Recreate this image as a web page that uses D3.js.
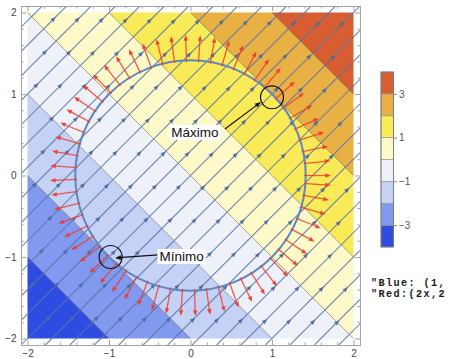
<!DOCTYPE html>
<html>
<head>
<meta charset="utf-8">
<script src="https://cdn.jsdelivr.net/npm/d3@7"></script>
<style>
  html, body { margin: 0; padding: 0; background: #fff; }
  svg { display: block; }
</style>
</head>
<body>
<svg id="chart" width="450" height="359"></svg>
<script>
// f(x, y) = x + y : contour levels and band fills (lowest band first)
const contourLevels = [-3, -2, -1, 0, 1, 2, 3];
const bandColors = ["#2E4BE2", "#8199EE", "#C6D1F6", "#EEF1F8", "#FDF9C9", "#F9EA57", "#E9B143", "#D85E31"];
const legendLabels = [3, 1, -1, -3];
const axisMajorTicks = [-2, -1, 0, 1, 2];
const axisMinorTicks = [-1.8, -1.6, -1.4, -1.2, -0.8, -0.6, -0.4, -0.2,
                        0.2, 0.4, 0.6, 0.8, 1.2, 1.4, 1.6, 1.8];

// stream lines of the field (1, 1): x - y = c
const streamOffsets = [-3.9, -3.6, -3.3, -3.0, -2.7, -2.4, -2.1, -1.8, -1.5, -1.2, -0.9, -0.6, -0.3,
                       0, 0.3, 0.6, 0.9, 1.2, 1.5, 1.8, 2.1, 2.4, 2.7, 3.0, 3.3, 3.6, 3.9];

// constraint circle x^2 + y^2 = 2 and sample angles (degrees) of the gradient (2x, 2y)
const constraintRadius = Math.SQRT2;
const gradientAngles = [0, 6, 12, 18, 24, 30, 36, 42, 50, 56, 62, 68, 74, 80, 86, 92, 98, 104, 110, 116,
                        122, 128, 134, 140, 146, 152, 158, 164, 170, 176, 182, 188, 194, 200, 206, 212,
                        218, 224, 230, 236, 242, 248, 254, 260, 266, 272, 278, 284, 290, 296, 302, 308,
                        314, 320, 326, 332, 338, 344, 350, 356];

// marked extrema
const extremaNames = ["Máximo", "Mínimo"];
const extremaPoints = [[1.0, 0.96], [-0.98, -1.0]];

// field descriptions shown at the right edge
const fieldNotes = ["\"Blue: (1,", "\"Red:(2x,2"];

// ---------------------------------------------------------------
const svg = d3.select("#chart");
const frame = { left: 21, right: 360, top: 6, bottom: 345 };
const x = d3.scaleLinear().domain([-2.08, 2.08]).range([frame.left, frame.right]);
const y = d3.scaleLinear().domain([-2.08, 2.08]).range([frame.bottom, frame.top]);
const pathOf = d3.line().x(d => x(d[0])).y(d => y(d[1]));

svg.append("defs").append("clipPath").attr("id", "frameClip")
  .append("rect")
  .attr("x", frame.left).attr("y", frame.top)
  .attr("width", frame.right - frame.left).attr("height", frame.bottom - frame.top);

const plot = svg.append("g").attr("clip-path", "url(#frameClip)");

// keep the part of a polygon where a*x + b*y <= c
function clipHalfPlane(poly, a, b, c) {
  const out = [];
  for (let i = 0; i < poly.length; i++) {
    const P = poly[i], Q = poly[(i + 1) % poly.length];
    const fp = a * P[0] + b * P[1] - c, fq = a * Q[0] + b * Q[1] - c;
    if (fp <= 0) out.push(P);
    if ((fp < 0 && fq > 0) || (fp > 0 && fq < 0)) {
      const t = fp / (fp - fq);
      out.push([P[0] + t * (Q[0] - P[0]), P[1] + t * (Q[1] - P[1])]);
    }
  }
  return out;
}

// filled contour bands
const square = [[-2, -2], [2, -2], [2, 2], [-2, 2]];
const bounds = [-Infinity, ...contourLevels, Infinity];
bandColors.forEach((col, i) => {
  let poly = square;
  if (isFinite(bounds[i + 1])) poly = clipHalfPlane(poly, 1, 1, bounds[i + 1]);
  if (isFinite(bounds[i])) poly = clipHalfPlane(poly, -1, -1, -bounds[i]);
  if (poly.length > 2) plot.append("path").attr("d", pathOf(poly) + "Z").attr("fill", col);
});

// contour lines
plot.append("g").selectAll("path").data(contourLevels).join("path")
  .attr("d", k => {
    const x0 = Math.max(-2, k - 2), x1 = Math.min(2, k + 2);
    return pathOf([[x0, k - x0], [x1, k - x1]]);
  })
  .attr("fill", "none").attr("stroke", "rgba(40,40,20,0.4)").attr("stroke-width", 1);

// stream lines with arrowheads
const streamG = plot.append("g");
streamG.selectAll("path").data(streamOffsets).join("path")
  .attr("d", c => {
    const x0 = Math.max(-2.08, c - 2.08), x1 = Math.min(2.08, c + 2.08);
    return pathOf([[x0, x0 - c], [x1, x1 - c]]);
  })
  .attr("fill", "none").attr("stroke", "#5775A6").attr("stroke-opacity", 0.85).attr("stroke-width", 1.1);

function headPath(tx, ty, ux, uy, len, half) {
  const bx = tx - ux * len, by = ty - uy * len;
  return `M${tx},${ty}L${bx - uy * half},${by + ux * half}L${bx + uy * half},${by - ux * half}Z`;
}
const heads = [];
streamOffsets.forEach((c, i) => {
  const phase = ((i * 0.29) % 0.8);
  for (let s = -4 + phase; s <= 4; s += 0.8) {
    const px = (s + c) / 2, py = (s - c) / 2;
    if (px > -1.95 && px < 1.95 && py > -1.95 && py < 1.95) heads.push([px, py]);
  }
});
streamG.append("g").selectAll("path").data(heads).join("path")
  .attr("d", d => headPath(x(d[0]), y(d[1]), Math.SQRT1_2, -Math.SQRT1_2, 5.2, 2.2))
  .attr("fill", "#4B6A9C").attr("fill-opacity", 0.92);

// constraint circle
plot.append("circle")
  .attr("cx", x(0)).attr("cy", y(0))
  .attr("r", x(constraintRadius) - x(0))
  .attr("fill", "none").attr("stroke", "#5E86C0").attr("stroke-width", 2);

// gradient (2x, 2y) arrows along the circle
const gradG = plot.append("g");
gradientAngles.forEach(a => {
  const t = a * Math.PI / 180;
  const ux = Math.cos(t), uy = Math.sin(t);
  const r0 = constraintRadius - 0.02, r1 = constraintRadius + 0.31;
  const p0 = [x(r0 * ux), y(r0 * uy)], p1 = [x(r1 * ux), y(r1 * uy)];
  gradG.append("line")
    .attr("x1", p0[0]).attr("y1", p0[1]).attr("x2", p1[0] - ux * 3).attr("y2", p1[1] + uy * 3)
    .attr("stroke", "#EE3A2C").attr("stroke-opacity", 0.82).attr("stroke-width", 1.3);
  gradG.append("path")
    .attr("d", headPath(p1[0], p1[1], ux, -uy, 5.5, 2.3))
    .attr("fill", "#EE3A2C").attr("fill-opacity", 0.88);
});

// marked extrema with callouts
const calloutLayout = [
  { text: [0.055, 0.472], from: [0.423, 0.571], to: [0.865, 0.902] },
  { text: [-0.110, -1.049], from: [-0.399, -0.975], to: [-0.926, -1.012] }
];
const noteG = svg.append("g");
extremaPoints.forEach((p, i) => {
  noteG.append("circle")
    .attr("cx", x(p[0])).attr("cy", y(p[1]))
    .attr("r", x(0.141) - x(0))
    .attr("fill", "none").attr("stroke", "#111").attr("stroke-width", 1.2);
  const L = calloutLayout[i];
  const f = [x(L.from[0]), y(L.from[1])], t = [x(L.to[0]), y(L.to[1])];
  const dx = t[0] - f[0], dy = t[1] - f[1], len = Math.hypot(dx, dy);
  const ux = dx / len, uy = dy / len;
  noteG.append("line")
    .attr("x1", f[0]).attr("y1", f[1]).attr("x2", t[0] - ux * 4).attr("y2", t[1] - uy * 4)
    .attr("stroke", "#111").attr("stroke-width", 1.2);
  noteG.append("path").attr("d", headPath(t[0], t[1], ux, uy, 6, 2.4)).attr("fill", "#111");
  const label = noteG.append("text")
    .attr("x", x(L.text[0])).attr("y", y(L.text[1]))
    .attr("text-anchor", "middle")
    .attr("font-family", "'Liberation Sans', Arial, sans-serif")
    .attr("font-size", 13.5).attr("fill", "#111")
    .text(extremaNames[i]);
  const bb = label.node().getBBox();
  noteG.insert("rect", () => label.node())
    .attr("x", bb.x - 2).attr("y", bb.y).attr("width", bb.width + 4).attr("height", bb.height)
    .attr("fill", "#fff");
});

// frame axes
const frameColor = "#A3A3A3";
const fmt = d => d < 0 ? "\u2212" + Math.abs(d) : String(d);
function styleAxis(g, showText) {
  g.selectAll(".domain").attr("stroke", frameColor);
  g.selectAll(".tick line").attr("stroke", frameColor);
  g.selectAll(".tick text")
    .attr("fill", "#444")
    .attr("font-family", "'Liberation Sans', Arial, sans-serif")
    .attr("font-size", 10)
    .style("display", showText ? null : "none");
}
const axes = [
  [d3.axisBottom(x), `translate(0,${frame.bottom})`, true],
  [d3.axisTop(x), `translate(0,${frame.top})`, false],
  [d3.axisLeft(y), `translate(${frame.left},0)`, true],
  [d3.axisRight(y), `translate(${frame.right},0)`, false]
];
axes.forEach(([ax, tr, show]) => {
  const gMinor = svg.append("g").attr("transform", tr)
    .call(ax.tickValues(axisMinorTicks).tickSizeInner(-2.6).tickSizeOuter(0).tickFormat(() => ""));
  styleAxis(gMinor, false);
  const gMajor = svg.append("g").attr("transform", tr)
    .call(ax.tickValues(axisMajorTicks).tickSizeInner(-5).tickSizeOuter(0)
            .tickPadding(show ? 4.5 : 3).tickFormat(fmt));
  styleAxis(gMajor, show);
});

// contour legend
const legendX = 381, legendW = 12.5;
const legendY = d3.scaleLinear().domain([-4, 4]).range([247, 72]);
const legG = svg.append("g");
bandColors.forEach((col, i) => {
  legG.append("rect")
    .attr("x", legendX).attr("y", legendY(i - 3))
    .attr("width", legendW).attr("height", legendY(i - 4) - legendY(i - 3))
    .attr("fill", col).attr("stroke", "#9A9A9A").attr("stroke-width", 0.7);
});
legG.append("rect")
  .attr("x", legendX).attr("y", legendY(4)).attr("width", legendW).attr("height", legendY(-4) - legendY(4))
  .attr("fill", "none").attr("stroke", "#707070").attr("stroke-width", 0.8);
const legAxis = legG.append("g").attr("transform", `translate(${legendX + legendW},0)`)
  .call(d3.axisRight(legendY).tickValues(legendLabels).tickSizeInner(3.5).tickSizeOuter(0).tickPadding(2).tickFormat(fmt));
legAxis.select(".domain").remove();
legAxis.selectAll(".tick line").attr("stroke", "#888");
legAxis.selectAll(".tick text").attr("fill", "#555")
  .attr("font-family", "'Liberation Sans', Arial, sans-serif").attr("font-size", 10);

// field descriptions
svg.append("g").selectAll("text").data(fieldNotes).join("text")
  .attr("x", 371).attr("y", (d, i) => 286 + i * 11)
  .attr("font-family", "'Liberation Mono', 'DejaVu Sans Mono', monospace")
  .attr("font-weight", "bold").attr("font-size", 10.2).attr("letter-spacing", 1.4)
  .attr("fill", "#1A1A1A")
  .text(d => d);
</script>
</body>
</html>
